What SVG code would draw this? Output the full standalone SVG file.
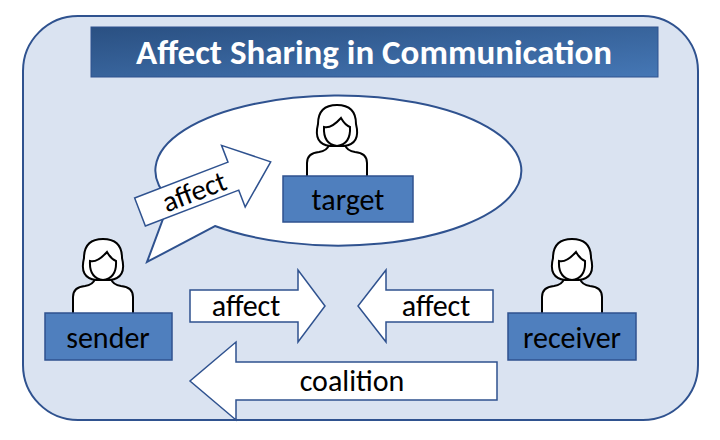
<svg xmlns="http://www.w3.org/2000/svg" width="720" height="440" viewBox="0 0 720 440">
<defs>
<linearGradient id="tg" x1="0" y1="0" x2="1" y2="1"><stop offset="0" stop-color="#2a5082"/><stop offset="1" stop-color="#4577b5"/></linearGradient>
<g id="person" fill="#fff" stroke="#000" stroke-width="2">
<path d="M-30,48 V30 Q-30,20 -18,19 Q-10,18 -8,12 H8 Q10,18 18,19 Q30,20 30,30 V48"/>
<path d="M-7,13 Q-24,11 -19,-9 Q-19,-28 0,-28 Q19,-28 19,-9 Q24,11 7,13 Z"/>
<path d="M-13,-6 Q-6,-4 4,-15 Q8,-8 13,-6 Q14,11 0,13 Q-14,11 -13,-6 Z"/>
</g>
</defs>
<style>
text{font-family:Calibri,"Open Sans","Liberation Sans",sans-serif;}
.box{fill:#4f7fbe;stroke:#2f528f;stroke-width:1.5}
.lbl{font-size:30px;fill:#000;text-anchor:middle}
.arr{fill:#fff;stroke:#2f528f;stroke-width:1.5}
</style>
<rect x="23" y="16" width="675" height="404" rx="55" fill="#dae3f1" stroke="#2f528f" stroke-width="2"/>
<rect x="91" y="27" width="567" height="50" fill="url(#tg)" stroke="#2f528f"/>
<text x="374" y="64" font-size="35" font-weight="bold" fill="#fff" text-anchor="middle">Affect Sharing in Communication</text>
<g id="bubble">
<path d="M170,200 A183,75 0 1 1 215,226 L147,262 Z" fill="#fff" stroke="#2f528f" stroke-width="2"/>
</g>
<g id="connectors">
<g transform="translate(140,212) rotate(-21)">
<path class="arr" d="M0,-15 H100 V-33 L140,0 L100,33 V15 H0 Z"/>
<text x="58" y="10" font-size="29" text-anchor="middle">affect</text>
</g>
<path class="arr" d="M190,290 H298 V270 L325,306 L298,342 V322 H190 Z"/>
<text x="246" y="316" class="lbl">affect</text>
<path class="arr" d="M493,290 H386 V270 L358,306 L386,342 V322 H493 Z"/>
<text x="436" y="316" class="lbl">affect</text>
<path class="arr" d="M497,362 H236 V342 L190,381 L236,420 V400 H497 Z"/>
<text x="352" y="391" class="lbl">coalition</text>
</g>
<g id="target">
<use href="#person" x="337" y="133"/>
<rect class="box" x="283" y="176" width="130" height="46"/>
<text x="348" y="210" class="lbl">target</text>
</g>
<g id="sender">
<use href="#person" x="103" y="267"/>
<rect class="box" x="45" y="313" width="127" height="47"/>
<text x="108" y="348" class="lbl">sender</text>
</g>
<g id="receiver">
<use href="#person" x="572" y="267"/>
<rect class="box" x="508" y="313" width="128" height="47"/>
<text x="572" y="348" class="lbl">receiver</text>
</g>
</svg>
